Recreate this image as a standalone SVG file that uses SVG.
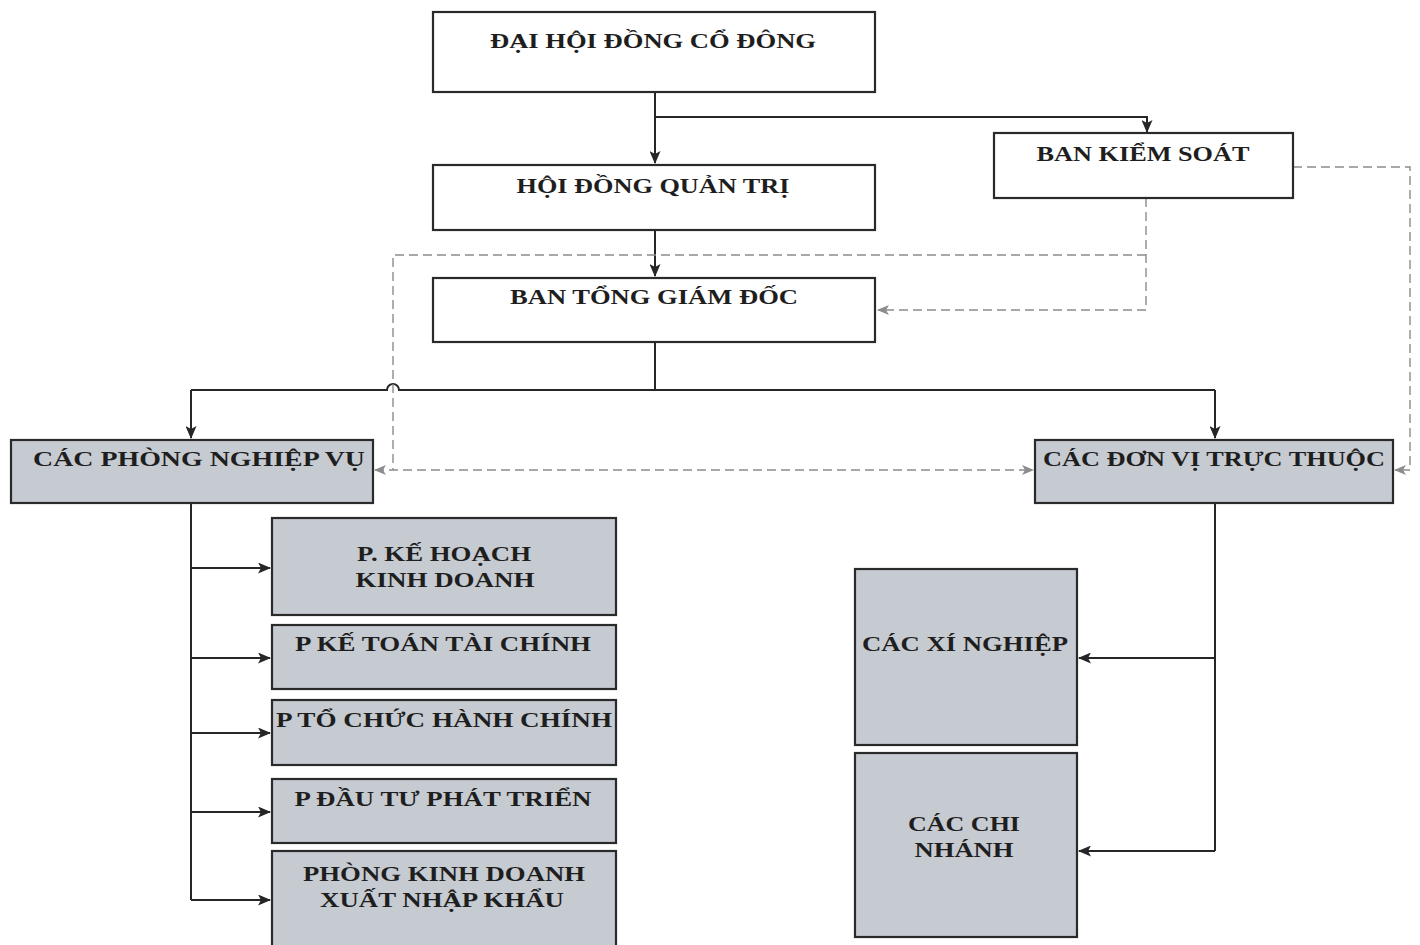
<svg xmlns="http://www.w3.org/2000/svg" width="1420" height="945" viewBox="0 0 1420 945">
<defs>
<style>
.box{stroke:#2a2a2a;stroke-width:2.2}
.w{fill:#ffffff}
.g{fill:#c6cad1}
.t{font-family:"Liberation Serif","Times New Roman",serif;font-weight:bold;font-size:21px;fill:#1e1e1e;text-anchor:middle}
.ln{fill:none;stroke:#262626;stroke-width:2}
.ds{fill:none;stroke:#8c8c8c;stroke-width:1.4;stroke-dasharray:9 5}
</style>
<marker id="ah" viewBox="0 0 13 11" refX="12" refY="5.5" markerWidth="13" markerHeight="11" markerUnits="userSpaceOnUse" orient="auto">
<path d="M0,0 L13,5.5 L0,11 L3,5.5 Z" fill="#262626"/>
</marker>
<marker id="ahd" viewBox="0 0 12 10" refX="11" refY="5" markerWidth="12" markerHeight="10" markerUnits="userSpaceOnUse" orient="auto-start-reverse">
<path d="M0,0 L12,5 L0,10 L3,5 Z" fill="#8c8c8c"/>
</marker>
</defs>
<rect width="1420" height="945" fill="#ffffff"/>

<g id="connectors">
<path class="ln" d="M655,92 V163" marker-end="url(#ah)"/>
<path class="ln" d="M655,117 H1147 V132" marker-end="url(#ah)"/>
<path class="ln" d="M655,230 V276" marker-end="url(#ah)"/>
<path class="ln" d="M655,342 V390 M191,390 H387 A6,6 0 0 1 399,390 H1215"/>
<path class="ln" d="M191,390 V438" marker-end="url(#ah)"/>
<path class="ln" d="M1215,390 V438" marker-end="url(#ah)"/>
<path class="ln" d="M191,503 V900"/>
<path class="ln" d="M191,568 H270" marker-end="url(#ah)"/>
<path class="ln" d="M191,658 H270" marker-end="url(#ah)"/>
<path class="ln" d="M191,733 H270" marker-end="url(#ah)"/>
<path class="ln" d="M191,812 H270" marker-end="url(#ah)"/>
<path class="ln" d="M191,900 H270" marker-end="url(#ah)"/>
<path class="ln" d="M1215,503 V851"/>
<path class="ln" d="M1215,658 H1079" marker-end="url(#ah)"/>
<path class="ln" d="M1215,851 H1079" marker-end="url(#ah)"/>
<path class="ds" d="M1146,198 V310 H878" marker-end="url(#ahd)"/>
<path class="ds" d="M1146,255 H393 V470"/>
<path class="ds" d="M375,470 H1033" marker-start="url(#ahd)" marker-end="url(#ahd)"/>
<path class="ds" d="M1293,167 H1410 V470 H1395" marker-end="url(#ahd)"/>
</g>

<g id="dai-hoi-dong-co-dong">
<rect class="box w" x="433" y="12" width="442" height="80"/>
<text class="t" x="653" y="48" textLength="326" lengthAdjust="spacingAndGlyphs">ĐẠI HỘI ĐỒNG CỔ ĐÔNG</text>
</g>
<g id="ban-kiem-soat">
<rect class="box w" x="994" y="133" width="299" height="65"/>
<text class="t" x="1143" y="161" textLength="213" lengthAdjust="spacingAndGlyphs">BAN KIỂM SOÁT</text>
</g>
<g id="hoi-dong-quan-tri">
<rect class="box w" x="433" y="165" width="442" height="65"/>
<text class="t" x="653" y="193" textLength="273" lengthAdjust="spacingAndGlyphs">HỘI ĐỒNG QUẢN TRỊ</text>
</g>
<g id="ban-tong-giam-doc">
<rect class="box w" x="433" y="278" width="442" height="64"/>
<text class="t" x="654" y="304" textLength="288" lengthAdjust="spacingAndGlyphs">BAN TỔNG GIÁM ĐỐC</text>
</g>
<g id="cac-phong-nghiep-vu">
<rect class="box g" x="11" y="440" width="362" height="63"/>
<text class="t" x="199" y="466" textLength="332" lengthAdjust="spacingAndGlyphs">CÁC PHÒNG NGHIỆP VỤ</text>
</g>
<g id="cac-don-vi-truc-thuoc">
<rect class="box g" x="1035" y="440" width="358" height="63"/>
<text class="t" x="1214" y="466" textLength="342" lengthAdjust="spacingAndGlyphs">CÁC ĐƠN VỊ TRỰC THUỘC</text>
</g>
<g id="p-ke-hoach-kinh-doanh">
<rect class="box g" x="272" y="518" width="344" height="97"/>
<text class="t" x="444" y="561" textLength="174" lengthAdjust="spacingAndGlyphs">P. KẾ HOẠCH</text>
<text class="t" x="445" y="587" textLength="179" lengthAdjust="spacingAndGlyphs">KINH DOANH</text>
</g>
<g id="p-ke-toan-tai-chinh">
<rect class="box g" x="272" y="625" width="344" height="64"/>
<text class="t" x="443" y="651" textLength="296" lengthAdjust="spacingAndGlyphs">P KẾ TOÁN TÀI CHÍNH</text>
</g>
<g id="p-to-chuc-hanh-chinh">
<rect class="box g" x="272" y="700" width="344" height="65"/>
<text class="t" x="444" y="727" textLength="336" lengthAdjust="spacingAndGlyphs">P TỔ CHỨC HÀNH CHÍNH</text>
</g>
<g id="p-dau-tu-phat-trien">
<rect class="box g" x="272" y="779" width="344" height="64"/>
<text class="t" x="443" y="806" textLength="297" lengthAdjust="spacingAndGlyphs">P ĐẦU TƯ PHÁT TRIỂN</text>
</g>
<g id="phong-kinh-doanh-xnk">
<rect class="box g" x="272" y="851" width="344" height="100"/>
<text class="t" x="444" y="881" textLength="282" lengthAdjust="spacingAndGlyphs">PHÒNG KINH DOANH</text>
<text class="t" x="442" y="907" textLength="244" lengthAdjust="spacingAndGlyphs">XUẤT NHẬP KHẨU</text>
</g>
<g id="cac-xi-nghiep">
<rect class="box g" x="855" y="569" width="222" height="176"/>
<text class="t" x="965" y="651" textLength="206" lengthAdjust="spacingAndGlyphs">CÁC XÍ NGHIỆP</text>
</g>
<g id="cac-chi-nhanh">
<rect class="box g" x="855" y="753" width="222" height="184"/>
<text class="t" x="964" y="831" textLength="112" lengthAdjust="spacingAndGlyphs">CÁC CHI</text>
<text class="t" x="964" y="857" textLength="99" lengthAdjust="spacingAndGlyphs">NHÁNH</text>
</g>
</svg>
